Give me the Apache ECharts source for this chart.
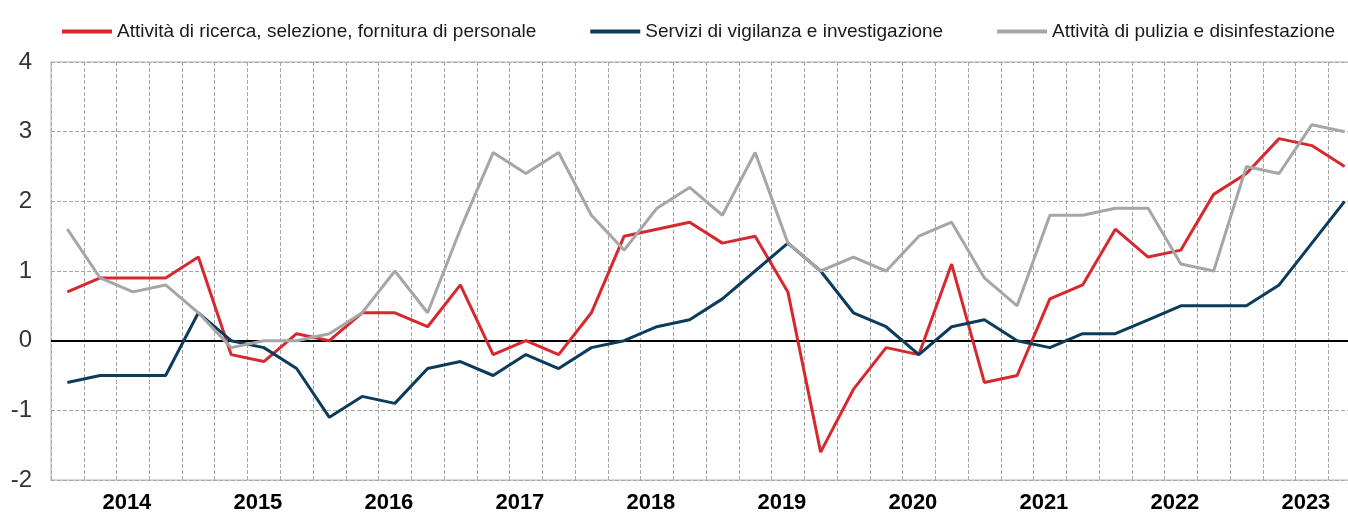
<!DOCTYPE html>
<html>
<head>
<meta charset="utf-8">
<script src="https://cdn.jsdelivr.net/npm/echarts@6/dist/echarts.min.js"></script>
<style>
  html, body { margin: 0; padding: 0; background: #fff; overflow: hidden; }
  /* the original plot runs past the right edge of the picture */
  #chart { width: 1361px; height: 514px; }
</style>
</head>
<body>
<div id="chart"></div>
<script>
var years = ['2014','2015','2016','2017','2018','2019','2020','2021','2022','2023']
var quarters = ['T1','T2','T3','T4']

var ricerca = [0.7,0.9,0.9,0.9, 1.2,-0.2,-0.3,0.1, 0.0,0.4,0.4,0.2, 0.8,-0.2,0.0,-0.2,
  0.4,1.5,1.6,1.7, 1.4,1.5,0.7,-1.6, -0.7,-0.1,-0.2,1.1, -0.6,-0.5,0.6,0.8,
  1.6,1.2,1.3,2.1, 2.4,2.9,2.8,2.5]
var vigilanza = [-0.6,-0.5,-0.5,-0.5, 0.4,0.0,-0.1,-0.4, -1.1,-0.8,-0.9,-0.4, -0.3,-0.5,-0.2,-0.4,
  -0.1,0.0,0.2,0.3, 0.6,1.0,1.4,1.0, 0.4,0.2,-0.2,0.2, 0.3,0.0,-0.1,0.1,
  0.1,0.3,0.5,0.5, 0.5,0.8,1.4,2.0]
var pulizia = [1.6,0.9,0.7,0.8, 0.4,-0.1,0.0,0.0, 0.1,0.4,1.0,0.4, 1.6,2.7,2.4,2.7,
  1.8,1.3,1.9,2.2, 1.8,2.7,1.4,1.0, 1.2,1.0,1.5,1.7, 0.9,0.5,1.8,1.8,
  1.9,1.9,1.1,1.0, 2.5,2.4,3.1,3.0]

var names = [
  'Attività di ricerca, selezione, fornitura di personale',
  'Servizi di vigilanza e investigazione',
  'Attività di pulizia e disinfestazione'
]
var colors = ['#d7282f', '#0c3c5c', '#a6a6a6']

var categories = []
years.forEach(function (y) {
  quarters.forEach(function (q) { categories.push(y + ' ' + q) })
})

var font = "'Liberation Sans', Arial, sans-serif"

var chart = echarts.init(document.getElementById('chart'))

function lineSeries(name, data, color, extra) {
  var s = {
    name: name,
    type: 'line',
    data: data,
    symbol: 'none',
    color: color,
    lineStyle: { width: 3, color: color },
    z: 3
  }
  return Object.assign(s, extra || {})
}

var option = {
  animation: false,
  backgroundColor: '#fff',
  textStyle: { fontFamily: font },
  legend: {
    left: 57,
    top: 17,
    itemWidth: 50,
    itemHeight: 4,
    itemGap: 54,
    icon: 'rect',
    textStyle: { fontSize: 19, color: '#1a1a1a', fontFamily: font },
    data: names
  },
  grid: {
    left: 51,
    right: 0,
    top: 62,
    bottom: 34,
    show: true,
    borderColor: '#d9d9d9',
    borderWidth: 2
  },
  xAxis: {
    type: 'category',
    data: categories,
    boundaryGap: true,
    axisLine: { show: false },
    axisTick: { show: false },
    splitLine: {
      show: true,
      interval: 0,
      lineStyle: { color: '#a6a6a6', type: [4, 2], width: 1 }
    },
    axisLabel: {
      interval: 0,
      fontSize: 22,
      fontWeight: 'bold',
      color: '#000',
      fontFamily: font,
      margin: 12,
      padding: [0, 12, 0, 0],
      formatter: function (v, i) {
        return i % 4 === 2 ? v.split(' ')[0] : ''
      }
    }
  },
  yAxis: {
    type: 'value',
    min: -2,
    max: 4,
    interval: 1,
    axisLine: { show: false },
    axisTick: { show: false },
    splitLine: {
      lineStyle: { color: '#a6a6a6', type: [4, 2], width: 1 }
    },
    axisLabel: {
      fontSize: 24,
      color: '#333',
      fontFamily: font,
      margin: 19
    }
  },
  series: [
    lineSeries(names[0], ricerca, colors[0], {
      markLine: {
        silent: true,
        symbol: 'none',
        label: { show: false },
        lineStyle: { color: '#000', width: 2, type: 'solid' },
        data: [{ yAxis: 0 }],
        z: 2
      }
    }),
    lineSeries(names[1], vigilanza, colors[1]),
    lineSeries(names[2], pulizia, colors[2])
  ]
}

chart.setOption(option)
</script>
</body>
</html>
